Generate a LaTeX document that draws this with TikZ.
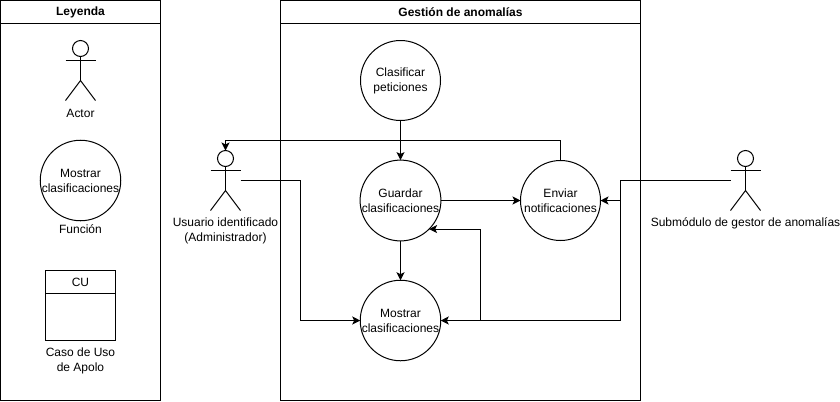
\documentclass[tikz,border=0pt]{standalone}
\usepackage{fontspec}
\setmainfont{Liberation Sans}
\usetikzlibrary{arrows.meta}

\tikzset{
    every node/.style = {font=\fontsize{9}{11.25}\selectfont, inner sep=0pt, outer sep=0pt, align=center},
    line/.style = {line width=0.75pt, draw=black},
    conn/.style = {line, -{Stealth[length=6pt,width=6pt,inset=1.4pt]}},
    func/.style = {line, circle, minimum size=60pt},
    lane/.style = {line, rectangle, minimum width=#1, anchor=north west},
    actorbox/.style = {minimum width=22.5pt, minimum height=45pt}
}

% stick figure around a named node: name, x, y (centre)
\newcommand{\stickman}[3]{
    \node[actorbox] (#1) at (#2,#3) {};
    \draw[line] (#2,#3-22) circle (6pt);
    \draw[line] (#2,#3-14) -- (#2,#3+10);
    \draw[line] (#2-15,#3-10) -- (#2+15,#3-10);
    \draw[line] (#2-15,#3+30) -- (#2,#3+10) -- (#2+15,#3+30);
}

\begin{document}
\begin{tikzpicture}[x=0.75pt, y=-0.75pt]

    \useasboundingbox (0,0) rectangle (840,401);

    % legend lane
    \node[lane=120pt, minimum height=300pt] (leyendabox) at (0.5,0.5) {};
    \node[lane=120pt, minimum height=17.25pt] (leyenda) at (0.5,0.5) {\bfseries Leyenda};

    \stickman{actorlegend}{80.5}{70.5}
    \node (actortext) at (80.5,113.5) {Actor};

    \node[func] (funclegend) at (80.5,180.5) {Mostrar\\clasificaciones};
    \node (functext) at (80.5,229.5) {Función};

    \node[lane=52.5pt, minimum height=52.5pt] (cubox) at (45.5,270.5) {};
    \node[lane=52.5pt, minimum height=17.25pt] (cu) at (45.5,270.5) {CU};
    \node (cutext) at (80.5,361) {Caso de Uso\\de Apolo};

    % main lane
    \node[lane=270pt, minimum height=300pt] (gestionbox) at (280.5,0.5) {};
    \node[lane=270pt, minimum height=17.25pt] (gestion) at (280.5,0.5) {\bfseries Gestión de anomalías};

    \node[func] (clasificar) at (400.5,80.5) {Clasificar\\peticiones};
    \node[func] (guardar) at (400.5,200.5) {Guardar\\clasificaciones};
    \node[func] (enviar) at (560.5,200.5) {Enviar\\notificaciones};
    \node[func] (mostrar) at (400.5,320.5) {Mostrar\\clasificaciones};

    % actors
    \stickman{usuario}{225.5}{180.5}
    \node (usuariotext) at (225.5,230.5) {Usuario identificado\\(Administrador)};

    \stickman{submodulo}{745.5}{180.5}
    \node (submodulotext) at (745.5,223.5) {Submódulo de gestor de anomalías};

    % branching points
    \coordinate (subdown) at (620.5,200.5);
    \coordinate (subup) at (480.5,320.5);
    \coordinate (toprow) at (225.5,140.5);

    % connectors
    \draw[conn] (clasificar) -- (guardar);
    \draw[conn] (guardar) -- (enviar);
    \draw[conn] (guardar) -- (mostrar);
    \draw[conn] (enviar.north) |- (toprow) -- (usuario.north);
    \draw[conn] (usuario.east) -- (300.5,180.5) |- (mostrar.west);
    \draw[conn] (submodulo.west) -- (620.5,180.5) |- (mostrar.east);
    \draw[conn] (subdown) -- (enviar.east);
    \draw[conn] (subup) |- (guardar.-45);

\end{tikzpicture}
\end{document}
